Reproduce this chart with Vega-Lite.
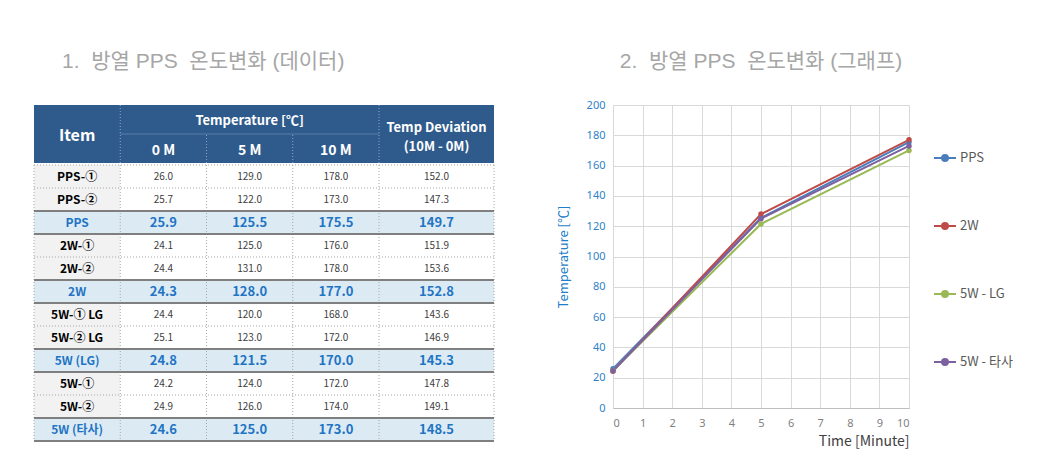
{
  "$schema": "https://vega.github.io/schema/vega-lite/v6.json",
  "background": "white",
  "padding": {"left": 33, "top": 50, "right": 5, "bottom": 5},
  "config": {"view": {"stroke": null}, "font": "Noto Sans CJK KR"},
  "datasets": {
    "one": [{}],
    "table": [
      {"item": "PPS-①", "kind": "sub", "m0": 26.0, "m5": 129.0, "m10": 178.0, "dev": 152.0},
      {"item": "PPS-②", "kind": "sub", "m0": 25.7, "m5": 122.0, "m10": 173.0, "dev": 147.3},
      {"item": "PPS", "kind": "avg", "m0": 25.9, "m5": 125.5, "m10": 175.5, "dev": 149.7},
      {"item": "2W-①", "kind": "sub", "m0": 24.1, "m5": 125.0, "m10": 176.0, "dev": 151.9},
      {"item": "2W-②", "kind": "sub", "m0": 24.4, "m5": 131.0, "m10": 178.0, "dev": 153.6},
      {"item": "2W", "kind": "avg", "m0": 24.3, "m5": 128.0, "m10": 177.0, "dev": 152.8},
      {"item": "5W-① LG", "kind": "sub", "m0": 24.4, "m5": 120.0, "m10": 168.0, "dev": 143.6},
      {"item": "5W-② LG", "kind": "sub", "m0": 25.1, "m5": 123.0, "m10": 172.0, "dev": 146.9},
      {"item": "5W (LG)", "kind": "avg", "m0": 24.8, "m5": 121.5, "m10": 170.0, "dev": 145.3},
      {"item": "5W-①", "kind": "sub", "m0": 24.2, "m5": 124.0, "m10": 172.0, "dev": 147.8},
      {"item": "5W-②", "kind": "sub", "m0": 24.9, "m5": 126.0, "m10": 174.0, "dev": 149.1},
      {"item": "5W (타사)", "kind": "avg", "m0": 24.6, "m5": 125.0, "m10": 173.0, "dev": 148.5}
    ],
    "chart": [
      {"series": "PPS", "t": 0, "temp": 25.9},
      {"series": "PPS", "t": 5, "temp": 125.5},
      {"series": "PPS", "t": 10, "temp": 175.5},
      {"series": "2W", "t": 0, "temp": 24.3},
      {"series": "2W", "t": 5, "temp": 128.0},
      {"series": "2W", "t": 10, "temp": 177.0},
      {"series": "5W - LG", "t": 0, "temp": 24.8},
      {"series": "5W - LG", "t": 5, "temp": 121.5},
      {"series": "5W - LG", "t": 10, "temp": 170.0},
      {"series": "5W - 타사", "t": 0, "temp": 24.6},
      {"series": "5W - 타사", "t": 5, "temp": 125.0},
      {"series": "5W - 타사", "t": 10, "temp": 173.0}
    ]
  },
  "spacing": 62,
  "hconcat": [
    {
      "title": {"text": "1.\u00a0 방열 PPS\u00a0 온도변화 (데이터)", "anchor": "start", "dx": 29, "fontSize": 21, "fontWeight": "normal", "color": "#a6a6a6", "offset": 33, "font": "Liberation Sans, Noto Sans CJK KR"},
      "spacing": 0,
      "vconcat": [
        {
          "width": 460,
          "height": 58,
          "layer": [
            {"data": {"name": "one"}, "mark": {"type": "rect", "fill": "#2f5b8c"},
             "encoding": {"x": {"datum": 0, "type": "quantitative", "scale": {"domain": [0, 16]}, "axis": null}, "x2": {"datum": 16},
                          "y": {"datum": 0, "type": "quantitative", "scale": {"domain": [0, 2]}, "axis": null}, "y2": {"datum": 2}}},
            {"data": {"name": "one"}, "mark": {"type": "rule", "color": "#5b7ca6", "strokeWidth": 1},
             "encoding": {"x": {"datum": 3, "type": "quantitative", "axis": null}, "x2": {"datum": 12},
                          "y": {"datum": 1, "type": "quantitative", "axis": null}}},
            {"data": {"name": "one"}, "mark": {"type": "rule", "color": "#8fa8c8", "strokeWidth": 1, "strokeDash": [1, 2]},
             "encoding": {"x": {"datum": 3, "type": "quantitative", "axis": null}}},
            {"data": {"name": "one"}, "mark": {"type": "rule", "color": "#8fa8c8", "strokeWidth": 1, "strokeDash": [1, 2]},
             "encoding": {"x": {"datum": 12, "type": "quantitative", "axis": null}}},
            {"data": {"name": "one"}, "mark": {"type": "rule", "color": "#8fa8c8", "strokeWidth": 1, "strokeDash": [1, 2]},
             "encoding": {"x": {"datum": 6, "type": "quantitative", "axis": null}, "y": {"datum": 0, "type": "quantitative", "axis": null}, "y2": {"datum": 1}}},
            {"data": {"name": "one"}, "mark": {"type": "rule", "color": "#8fa8c8", "strokeWidth": 1, "strokeDash": [1, 2]},
             "encoding": {"x": {"datum": 9, "type": "quantitative", "axis": null}, "y": {"datum": 0, "type": "quantitative", "axis": null}, "y2": {"datum": 1}}},
            {"data": {"values": [{"t": "Item"}]}, "mark": {"type": "text", "color": "white", "fontSize": 16, "fontWeight": "bold", "align": "center", "baseline": "middle", "dy": 2},
             "encoding": {"x": {"datum": 1.5, "type": "quantitative", "axis": null}, "y": {"datum": 1, "type": "quantitative", "axis": null}, "text": {"field": "t"}}},
            {"data": {"values": [{"t": "Temperature [℃]"}]}, "mark": {"type": "text", "color": "white", "fontSize": 13, "fontWeight": "bold", "align": "center", "baseline": "middle", "dy": 1},
             "encoding": {"x": {"datum": 7.5, "type": "quantitative", "axis": null}, "y": {"datum": 1.5, "type": "quantitative", "axis": null}, "text": {"field": "t"}}},
            {"data": {"values": [{"t": "0 M"}]}, "mark": {"type": "text", "color": "white", "fontSize": 14, "fontWeight": "bold", "align": "center", "baseline": "middle", "dy": 2},
             "encoding": {"x": {"datum": 4.5, "type": "quantitative", "axis": null}, "y": {"datum": 0.5, "type": "quantitative", "axis": null}, "text": {"field": "t"}}},
            {"data": {"values": [{"t": "5 M"}]}, "mark": {"type": "text", "color": "white", "fontSize": 14, "fontWeight": "bold", "align": "center", "baseline": "middle", "dy": 2},
             "encoding": {"x": {"datum": 7.5, "type": "quantitative", "axis": null}, "y": {"datum": 0.5, "type": "quantitative", "axis": null}, "text": {"field": "t"}}},
            {"data": {"values": [{"t": "10 M"}]}, "mark": {"type": "text", "color": "white", "fontSize": 14, "fontWeight": "bold", "align": "center", "baseline": "middle", "dy": 2},
             "encoding": {"x": {"datum": 10.5, "type": "quantitative", "axis": null}, "y": {"datum": 0.5, "type": "quantitative", "axis": null}, "text": {"field": "t"}}},
            {"data": {"values": [{"t": ["Temp Deviation", "(10M - 0M)"]}]}, "mark": {"type": "text", "color": "white", "fontSize": 13, "fontWeight": "bold", "align": "center", "baseline": "middle", "lineHeight": 19, "dy": -6},
             "encoding": {"x": {"datum": 14, "type": "quantitative", "axis": null}, "y": {"datum": 1, "type": "quantitative", "axis": null}, "text": {"field": "t"}}}
          ]
        },
        {
          "width": 460,
          "height": 276,
          "data": {"name": "table"},
          "encoding": {"y": {"field": "item", "type": "nominal", "sort": null, "scale": {"paddingInner": 0, "paddingOuter": 0}, "axis": null}},
          "layer": [
            {"mark": {"type": "rect"},
             "encoding": {"x": {"datum": 0, "type": "quantitative", "scale": {"domain": [0, 16]}, "axis": null}, "x2": {"datum": 16},
                          "fill": {"condition": {"test": "datum.kind === 'avg'", "value": "#dcebf3"}, "value": "#ffffff"}}},
            {"mark": {"type": "rect"},
             "encoding": {"x": {"datum": 0, "type": "quantitative", "axis": null}, "x2": {"datum": 3},
                          "fill": {"condition": {"test": "datum.kind === 'avg'", "value": "#dcebf3"}, "value": "#f2f2f2"}}},
            {"mark": {"type": "rule", "color": "#a6a6a6", "strokeWidth": 1, "strokeDash": [1, 2]},
             "encoding": {"y": {"field": "item", "type": "nominal", "sort": null, "bandPosition": 0, "axis": null},
                          "x": {"datum": 0, "type": "quantitative", "axis": null}, "x2": {"datum": 16}}},
            {"data": {"name": "one"}, "mark": {"type": "rule", "color": "#a6a6a6", "strokeWidth": 1, "strokeDash": [1, 2]},
             "encoding": {"y": null, "x": {"datum": 0, "type": "quantitative", "axis": null}}},
            {"data": {"name": "one"}, "mark": {"type": "rule", "color": "#a6a6a6", "strokeWidth": 1, "strokeDash": [1, 2]},
             "encoding": {"y": null, "x": {"datum": 3, "type": "quantitative", "axis": null}}},
            {"data": {"name": "one"}, "mark": {"type": "rule", "color": "#a6a6a6", "strokeWidth": 1, "strokeDash": [1, 2]},
             "encoding": {"y": null, "x": {"datum": 6, "type": "quantitative", "axis": null}}},
            {"data": {"name": "one"}, "mark": {"type": "rule", "color": "#a6a6a6", "strokeWidth": 1, "strokeDash": [1, 2]},
             "encoding": {"y": null, "x": {"datum": 9, "type": "quantitative", "axis": null}}},
            {"data": {"name": "one"}, "mark": {"type": "rule", "color": "#a6a6a6", "strokeWidth": 1, "strokeDash": [1, 2]},
             "encoding": {"y": null, "x": {"datum": 12, "type": "quantitative", "axis": null}}},
            {"data": {"name": "one"}, "mark": {"type": "rule", "color": "#a6a6a6", "strokeWidth": 1, "strokeDash": [1, 2]},
             "encoding": {"y": null, "x": {"datum": 16, "type": "quantitative", "axis": null}}},
            {"transform": [{"filter": "datum.kind === 'avg'"}], "mark": {"type": "rule", "color": "#7f7f7f", "strokeWidth": 2},
             "encoding": {"y": {"field": "item", "type": "nominal", "sort": null, "bandPosition": 0, "axis": null},
                          "x": {"datum": 0, "type": "quantitative", "axis": null}, "x2": {"datum": 16}}},
            {"transform": [{"filter": "datum.kind === 'avg'"}], "mark": {"type": "rule", "color": "#7f7f7f", "strokeWidth": 2},
             "encoding": {"y": {"field": "item", "type": "nominal", "sort": null, "bandPosition": 1, "axis": null},
                          "x": {"datum": 0, "type": "quantitative", "axis": null}, "x2": {"datum": 16}}},
            {"transform": [{"filter": "datum.kind === 'sub'"}], "mark": {"type": "text", "color": "#000000", "fontSize": 12, "fontWeight": "bold", "align": "center", "baseline": "middle"},
             "encoding": {"x": {"datum": 1.5, "type": "quantitative", "axis": null}, "text": {"field": "item"}}},
            {"transform": [{"filter": "datum.kind === 'avg'"}], "mark": {"type": "text", "color": "#1f74c4", "fontSize": 12, "fontWeight": "bold", "align": "center", "baseline": "middle"},
             "encoding": {"x": {"datum": 1.5, "type": "quantitative", "axis": null}, "text": {"field": "item"}}},
            {"transform": [{"filter": "datum.kind === 'sub'"}], "mark": {"type": "text", "color": "#404040", "fontSize": 10, "align": "center", "baseline": "middle"},
             "encoding": {"x": {"datum": 4.5, "type": "quantitative", "axis": null}, "text": {"field": "m0", "format": ".1f"}}},
            {"transform": [{"filter": "datum.kind === 'sub'"}], "mark": {"type": "text", "color": "#404040", "fontSize": 10, "align": "center", "baseline": "middle"},
             "encoding": {"x": {"datum": 7.5, "type": "quantitative", "axis": null}, "text": {"field": "m5", "format": ".1f"}}},
            {"transform": [{"filter": "datum.kind === 'sub'"}], "mark": {"type": "text", "color": "#404040", "fontSize": 10, "align": "center", "baseline": "middle"},
             "encoding": {"x": {"datum": 10.5, "type": "quantitative", "axis": null}, "text": {"field": "m10", "format": ".1f"}}},
            {"transform": [{"filter": "datum.kind === 'sub'"}], "mark": {"type": "text", "color": "#404040", "fontSize": 10, "align": "center", "baseline": "middle"},
             "encoding": {"x": {"datum": 14, "type": "quantitative", "axis": null}, "text": {"field": "dev", "format": ".1f"}}},
            {"transform": [{"filter": "datum.kind === 'avg'"}], "mark": {"type": "text", "color": "#1f74c4", "fontSize": 13, "fontWeight": "bold", "align": "center", "baseline": "middle"},
             "encoding": {"x": {"datum": 4.5, "type": "quantitative", "axis": null}, "text": {"field": "m0", "format": ".1f"}}},
            {"transform": [{"filter": "datum.kind === 'avg'"}], "mark": {"type": "text", "color": "#1f74c4", "fontSize": 13, "fontWeight": "bold", "align": "center", "baseline": "middle"},
             "encoding": {"x": {"datum": 7.5, "type": "quantitative", "axis": null}, "text": {"field": "m5", "format": ".1f"}}},
            {"transform": [{"filter": "datum.kind === 'avg'"}], "mark": {"type": "text", "color": "#1f74c4", "fontSize": 13, "fontWeight": "bold", "align": "center", "baseline": "middle"},
             "encoding": {"x": {"datum": 10.5, "type": "quantitative", "axis": null}, "text": {"field": "m10", "format": ".1f"}}},
            {"transform": [{"filter": "datum.kind === 'avg'"}], "mark": {"type": "text", "color": "#1f74c4", "fontSize": 13, "fontWeight": "bold", "align": "center", "baseline": "middle"},
             "encoding": {"x": {"datum": 14, "type": "quantitative", "axis": null}, "text": {"field": "dev", "format": ".1f"}}}
          ]
        }
      ]
    },
    {
      "title": {"text": "2.\u00a0 방열 PPS\u00a0 온도변화 (그래프)", "anchor": "middle", "frame": "group", "fontSize": 21, "fontWeight": "normal", "color": "#a6a6a6", "offset": 27, "font": "Liberation Sans, Noto Sans CJK KR"},
      "width": 296,
      "height": 303,
      "data": {"name": "chart"},
      "mark": {"type": "line", "strokeWidth": 2, "point": {"filled": true, "size": 30}},
      "encoding": {
        "x": {"field": "t", "type": "quantitative", "scale": {"domain": [0, 10], "nice": false},
              "axis": {"values": [0, 1, 2, 3, 4, 5, 6, 7, 8, 9, 10], "title": "Time [Minute]", "titleAnchor": "end", "titleAlign": "right", "titleFontSize": 14, "titleFontWeight": "normal", "titleColor": "#404040", "titlePadding": 6,
                       "labelFontSize": 11, "labelColor": "#7f7f7f", "labelPadding": 9, "ticks": false, "domainColor": "#bfbfbf", "gridColor": "#d9d9d9", "labelFont": "Noto Sans", "titleFont": "Noto Sans CJK KR"}},
        "y": {"field": "temp", "type": "quantitative", "scale": {"domain": [0, 200], "nice": false},
              "axis": {"values": [0, 20, 40, 60, 80, 100, 120, 140, 160, 180, 200], "title": "Temperature [℃]", "titleFontSize": 13, "titleFontWeight": "normal", "titleColor": "#1f7fc8", "titlePadding": 16,
                       "labelFontSize": 11, "labelColor": "#2f7fc8", "labelPadding": 8, "ticks": false, "domain": false, "gridColor": "#d9d9d9", "labelFont": "Noto Sans", "titleFont": "Noto Sans CJK KR"}},
        "color": {"field": "series", "type": "nominal",
                  "scale": {"domain": ["PPS", "2W", "5W - LG", "5W - 타사"], "range": ["#4a7ebb", "#be4b48", "#98b954", "#7d60a0"]},
                  "legend": {"title": null, "orient": "none", "legendX": 899, "legendY": 41, "rowPadding": 49, "labelFontSize": 13, "labelColor": "#595959", "labelFont": "Noto Sans CJK KR",
                             "symbolType": "M-1,0L1,0M0.27,0A0.27,0.27,0,1,1,-0.27,0A0.27,0.27,0,1,1,0.27,0Z", "symbolSize": 484, "symbolStrokeWidth": 2, "labelOffset": 3}}
      }
    }
  ]
}
